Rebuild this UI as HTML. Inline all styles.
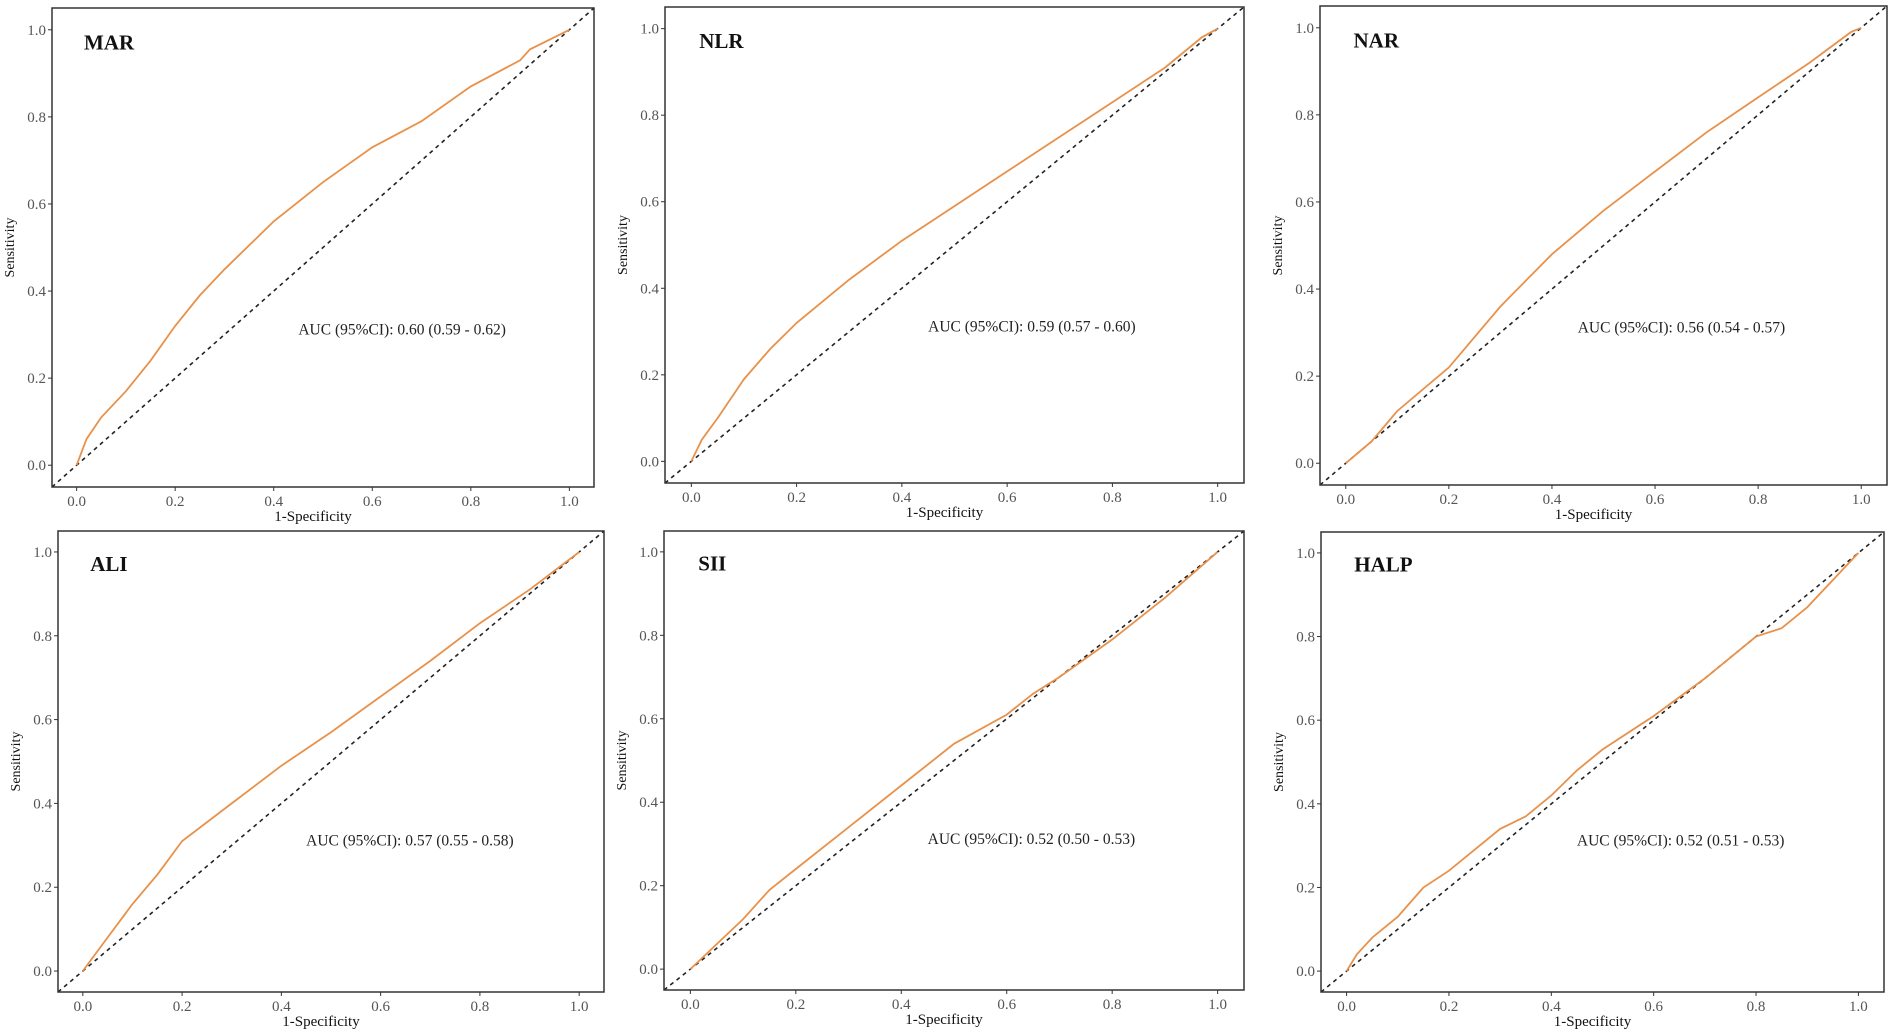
<!DOCTYPE html>
<html><head><meta charset="utf-8"><style>
html,body{margin:0;padding:0;background:#fff;}
svg{display:block;font-family:"Liberation Serif",serif;}
</style></head><body>
<svg id="chart" width="1893" height="1029" viewBox="0 0 1893 1029"></svg>
<script>
const panelNames = ["MAR","NLR","NAR","ALI","SII","HALP"];
const aucLabels = ["AUC (95%CI): 0.60 (0.59 - 0.62)","AUC (95%CI): 0.59 (0.57 - 0.60)","AUC (95%CI): 0.56 (0.54 - 0.57)","AUC (95%CI): 0.57 (0.55 - 0.58)","AUC (95%CI): 0.52 (0.50 - 0.53)","AUC (95%CI): 0.52 (0.51 - 0.53)"];
const tickValues = [0,0.2,0.4,0.6,0.8,1.0];
const tickLabels = ["0.0","0.2","0.4","0.6","0.8","1.0"];
const fprMAR = [0,0.02,0.05,0.1,0.15,0.2,0.25,0.3,0.4,0.5,0.6,0.7,0.8,0.9,0.92,1];
const tprMAR = [0,0.06,0.11,0.17,0.24,0.32,0.39,0.45,0.56,0.65,0.73,0.79,0.87,0.93,0.955,1];
const fprNLR = [0,0.02,0.05,0.1,0.15,0.2,0.3,0.4,0.5,0.6,0.7,0.8,0.9,0.97,1];
const tprNLR = [0,0.05,0.1,0.19,0.26,0.32,0.42,0.51,0.59,0.67,0.75,0.83,0.91,0.98,1];
const fprNAR = [0,0.05,0.1,0.2,0.3,0.35,0.4,0.5,0.6,0.7,0.8,0.9,0.98,1];
const tprNAR = [0,0.05,0.12,0.22,0.36,0.42,0.48,0.58,0.67,0.76,0.84,0.92,0.99,1];
const fprALI = [0,0.05,0.1,0.15,0.2,0.3,0.4,0.5,0.6,0.7,0.8,0.9,1];
const tprALI = [0,0.08,0.16,0.23,0.31,0.4,0.49,0.57,0.655,0.74,0.83,0.91,1];
const fprSII = [0,0.05,0.1,0.15,0.2,0.3,0.4,0.5,0.6,0.65,0.7,0.8,0.9,1];
const tprSII = [0,0.06,0.12,0.19,0.24,0.34,0.44,0.54,0.61,0.66,0.7,0.79,0.89,1];
const fprHALP = [0,0.02,0.05,0.1,0.15,0.2,0.25,0.3,0.35,0.4,0.45,0.5,0.6,0.7,0.8,0.85,0.9,1];
const tprHALP = [0,0.04,0.08,0.13,0.2,0.24,0.29,0.34,0.37,0.42,0.48,0.53,0.61,0.7,0.8,0.82,0.87,1];
const fprAll = [fprMAR,fprNLR,fprNAR,fprALI,fprSII,fprHALP];
const tprAll = [tprMAR,tprNLR,tprNAR,tprALI,tprSII,tprHALP];

const boxes = [[52,8,594,487],[665,7,1244,483],[1320,6,1887,485],[58,531,604,992],[664,531,1244,990],[1321,532,1884,992]];
const NS="http://www.w3.org/2000/svg";
const svg=document.getElementById('chart');
function mk(tag,attrs,parent){const e=document.createElementNS(NS,tag);for(const k in attrs)e.setAttribute(k,attrs[k]);(parent||svg).appendChild(e);return e;}
const defs=mk('defs',{});
boxes.forEach((b,i)=>{
  const [L,T,R,B]=b;
  const sx=v=>L+(v+0.05)/1.1*(R-L);
  const sy=v=>B-(v+0.05)/1.1*(B-T);
  const g=mk('g',{});
  
  
  const cp=mk('clipPath',{id:'c'+i},defs);
  mk('rect',{x:L,y:T,width:R-L,height:B-T},cp);
  const d=mk('line',{x1:sx(-0.05),y1:sy(-0.05),x2:sx(1.05),y2:sy(1.05),stroke:'#222','stroke-width':1.6,'stroke-dasharray':'4,4','clip-path':'url(#c'+i+')'},g);
  
  
  const pts=fprAll[i].map((x,j)=>sx(x).toFixed(1)+','+sy(tprAll[i][j]).toFixed(1)).join(' ');
  const c=mk('polyline',{points:pts,fill:'none',stroke:'#E8914A','stroke-width':1.8},g);
  
  
  const fr=mk('rect',{x:L,y:T,width:R-L,height:B-T,fill:'none',stroke:'#333','stroke-width':1.5},g);
  
  
  tickValues.forEach((v,k)=>{
    mk('line',{x1:sx(v),y1:B,x2:sx(v),y2:B+4,stroke:'#333'},g);
    mk('line',{x1:L-4,y1:sy(v),x2:L,y2:sy(v),stroke:'#333'},g);
    const xt=mk('text',{x:sx(v),y:B+19,'text-anchor':'middle','font-size':15,fill:'#555'},g);
    xt.textContent=tickLabels[k];
    
    
    const yt=mk('text',{x:L-6,y:sy(v)+5,'text-anchor':'end','font-size':15,fill:'#555'},g);
    yt.textContent=tickLabels[k];
    
    
  });
  const xl=mk('text',{x:(L+R)/2-10,y:B+34,'text-anchor':'middle','font-size':15,fill:'#111'},g);
  xl.textContent='1-Specificity';
  
  
  const yl=mk('text',{x:0,y:0,'text-anchor':'middle','font-size':14,fill:'#111',transform:'translate('+(L-38)+','+((T+B)/2)+') rotate(-90)'},g);
  yl.textContent='Sensitivity';
  
  
  const tt=mk('text',{x:sx(0.015),y:sy(0.955),'font-size':21,'font-weight':'bold',fill:'#111'},g);
  tt.textContent=panelNames[i];
  
  
  const at=mk('text',{x:sx(0.45),y:sy(0.3),'font-size':15.5,fill:'#222'},g);
  at.textContent=aucLabels[i];
  
  
});
</script>
</body></html>
